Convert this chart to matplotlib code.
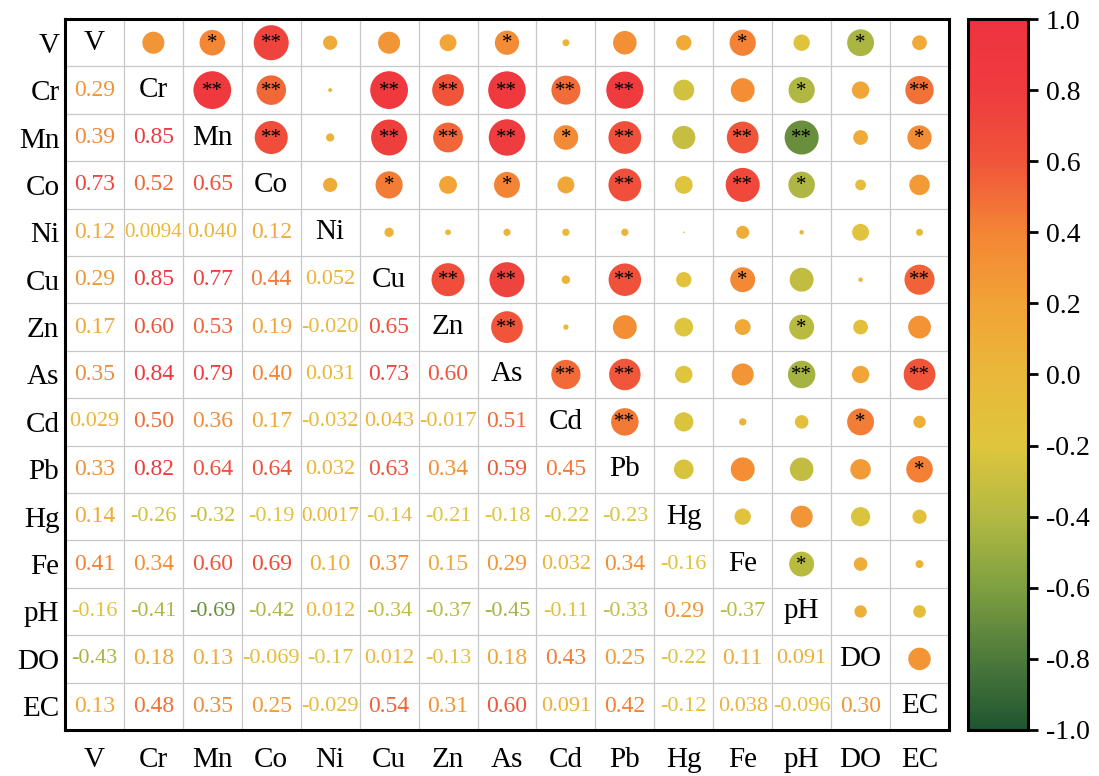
import numpy as np
import matplotlib
matplotlib.use("Agg")
import matplotlib.pyplot as plt
from matplotlib.colors import LinearSegmentedColormap, Normalize

plt.rcParams['font.family'] = ['Liberation Serif', 'DejaVu Serif']
plt.rcParams['axes.unicode_minus'] = False

# variables
labels = ['V', 'Cr', 'Mn', 'Co', 'Ni', 'Cu', 'Zn', 'As', 'Cd', 'Pb', 'Hg', 'Fe', 'pH', 'DO', 'EC']

# lower triangle (row i, columns 0..i-1), kept as printed
low_Cr = ['0.29']
low_Mn = ['0.39', '0.85']
low_Co = ['0.73', '0.52', '0.65']
low_Ni = ['0.12', '0.0094', '0.040', '0.12']
low_Cu = ['0.29', '0.85', '0.77', '0.44', '0.052']
low_Zn = ['0.17', '0.60', '0.53', '0.19', '-0.020', '0.65']
low_As = ['0.35', '0.84', '0.79', '0.40', '0.031', '0.73', '0.60']
low_Cd = ['0.029', '0.50', '0.36', '0.17', '-0.032', '0.043', '-0.017', '0.51']
low_Pb = ['0.33', '0.82', '0.64', '0.64', '0.032', '0.63', '0.34', '0.59', '0.45']
low_Hg = ['0.14', '-0.26', '-0.32', '-0.19', '0.0017', '-0.14', '-0.21', '-0.18', '-0.22', '-0.23']
low_Fe = ['0.41', '0.34', '0.60', '0.69', '0.10', '0.37', '0.15', '0.29', '0.032', '0.34', '-0.16']
low_pH = ['-0.16', '-0.41', '-0.69', '-0.42', '0.012', '-0.34', '-0.37', '-0.45', '-0.11', '-0.33', '0.29', '-0.37']
low_DO = ['-0.43', '0.18', '0.13', '-0.069', '-0.17', '0.012', '-0.13', '0.18', '0.43', '0.25', '-0.22', '0.11', '0.091']
low_EC = ['0.13', '0.48', '0.35', '0.25', '-0.029', '0.54', '0.31', '0.60', '0.091', '0.42', '-0.12', '0.038', '-0.096', '0.30']
lower = [[], low_Cr, low_Mn, low_Co, low_Ni, low_Cu, low_Zn, low_As, low_Cd,
         low_Pb, low_Hg, low_Fe, low_pH, low_DO, low_EC]

# significance marks in the upper triangle (row i, columns i+1..)
sig_V = ['', '*', '**', '', '', '', '*', '', '', '', '*', '', '*', '']
sig_Cr = ['**', '**', '', '**', '**', '**', '**', '**', '', '', '*', '', '**']
sig_Mn = ['**', '', '**', '**', '**', '*', '**', '', '**', '**', '', '*']
sig_Co = ['', '*', '', '*', '', '**', '', '**', '*', '', '']
sig_Ni = ['', '', '', '', '', '', '', '', '', '']
sig_Cu = ['**', '**', '', '**', '', '*', '', '', '**']
sig_Zn = ['**', '', '', '', '', '*', '', '']
sig_As = ['**', '**', '', '', '**', '', '**']
sig_Cd = ['**', '', '', '', '*', '']
sig_Pb = ['', '', '', '', '*']
sig_Hg = ['', '', '', '']
sig_Fe = ['*', '', '']
sig_pH = ['', '']
sig_DO = ['']
sigs = [sig_V, sig_Cr, sig_Mn, sig_Co, sig_Ni, sig_Cu, sig_Zn, sig_As, sig_Cd,
        sig_Pb, sig_Hg, sig_Fe, sig_pH, sig_DO, []]

cbar_ticks = [-1.0, -0.8, -0.6, -0.4, -0.2, 0.0, 0.2, 0.4, 0.6, 0.8, 1.0]

n = len(labels)
r = np.eye(n)
for i in range(n):
    for j, s in enumerate(lower[i]):
        r[i, j] = float(s)
        r[j, i] = float(s)

cmap = LinearSegmentedColormap.from_list('corr', [
    (0.0, '#1f5530'), (0.1, '#4e7a3c'), (0.2, '#7fa040'), (0.3, '#b3b942'),
    (0.4, '#dfc53d'), (0.5, '#e9b83a'), (0.6, '#f2a336'), (0.7, '#f38535'),
    (0.8, '#f0553a'), (0.9, '#ef3b3e'), (1.0, '#ee3340')])
norm = Normalize(-1, 1)


def num_size(s):
    # shrink long numbers so they fit the cell
    w = 0.5 * sum(c.isdigit() for c in s) + 0.25 * s.count('.') + 0.333 * s.count('-')
    base = 17.0 if len(s) <= 4 else 16.0
    return min(base, 58 / (w * 100 / 72))


fig = plt.figure(figsize=(10.99, 7.76), dpi=100)
ax = fig.add_axes([0.0591, 0.0593, 0.8044, 0.9162])
cax = fig.add_axes([0.8808, 0.0593, 0.0546, 0.9162])

# grid lines
for k in range(n + 1):
    ax.axvline(k - 0.5, color='#c8c8c8', lw=0.9, zorder=1)
    ax.axhline(k - 0.5, color='#c8c8c8', lw=0.9, zorder=1)

ui, uj = np.triu_indices(n, 1)
vals = r[ui, uj]
ax.scatter(uj, ui, s=870 * np.abs(vals), c=vals, cmap=cmap, norm=norm,
           marker='o', linewidths=0, zorder=3)

for i in range(n):
    ax.text(i, i, labels[i], ha='center', va='center', fontsize=21, color='black', zorder=4)
    for j, s in enumerate(lower[i]):
        ax.text(j, i, s, ha='center', va='center', fontsize=num_size(s),
                color=cmap(norm(float(s))), zorder=4)
    for k, star in enumerate(sigs[i]):
        if star:
            ax.text(i + 1 + k, i + 0.02, star, ha='center', va='center',
                    fontsize=15, color='black', zorder=5)

ax.set_xlim(-0.5, n - 0.5)
ax.set_ylim(n - 0.5, -0.5)
ax.set_xticks(range(n))
ax.set_yticks(range(n))
ax.set_xticklabels(labels, fontsize=21)
ax.set_yticklabels(labels, fontsize=21)
ax.tick_params(axis='x', length=0, pad=12)
ax.tick_params(axis='y', length=0, pad=4)
for sp in ax.spines.values():
    sp.set_linewidth(2.2)
    sp.set_zorder(6)

cb = fig.colorbar(plt.cm.ScalarMappable(norm=norm, cmap=cmap), cax=cax,
                  ticks=cbar_ticks, format='%.1f')
cb.outline.set_linewidth(2.2)
cax.tick_params(length=7, width=2, labelsize=20, pad=6)

fig.savefig('out.png', dpi=100)
